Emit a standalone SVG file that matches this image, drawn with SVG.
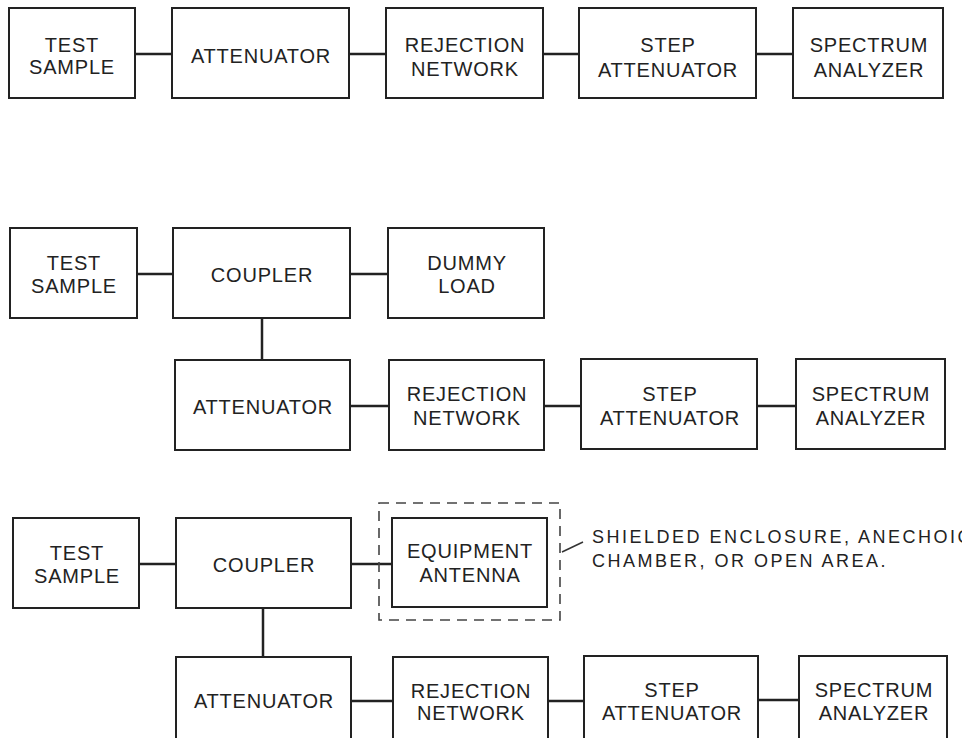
<svg xmlns="http://www.w3.org/2000/svg" width="962" height="738" viewBox="0 0 962 738">
<style>
.box{fill:#fff;stroke:#222;stroke-width:2}
.lbl{font-family:"Liberation Sans",Arial,sans-serif;font-size:20px;letter-spacing:0.8px;fill:#222;text-anchor:middle}
.conn line{stroke:#222;stroke-width:2.5}
.dash{fill:none;stroke:#444;stroke-width:1.6;stroke-dasharray:10 7}
.note{font-family:"Liberation Sans",Arial,sans-serif;font-size:18px;letter-spacing:2.5px;fill:#222}
</style>
<rect width="962" height="738" fill="#fff"/>
<g id="connectors" class="conn">
<line x1="135" y1="54" x2="172" y2="54"/>
<line x1="349" y1="54" x2="386" y2="54"/>
<line x1="543" y1="54" x2="579" y2="54"/>
<line x1="756" y1="54" x2="793" y2="54"/>
<line x1="137" y1="274" x2="173" y2="274"/>
<line x1="350" y1="274" x2="388" y2="274"/>
<line x1="262" y1="318" x2="262" y2="360"/>
<line x1="350" y1="406" x2="389" y2="406"/>
<line x1="544" y1="406" x2="581" y2="406"/>
<line x1="757" y1="406" x2="796" y2="406"/>
<line x1="139" y1="564" x2="176" y2="564"/>
<line x1="351" y1="564" x2="392" y2="564"/>
<line x1="263" y1="608" x2="263" y2="657"/>
<line x1="351" y1="701" x2="393" y2="701"/>
<line x1="548" y1="701" x2="584" y2="701"/>
<line x1="758" y1="700" x2="799" y2="700"/>
</g>
<g id="test1"><rect class="box" x="9" y="8" width="126" height="90"/><text class="lbl" x="72" y="52">TEST</text><text class="lbl" x="72" y="74">SAMPLE</text></g>
<g id="att1"><rect class="box" x="172" y="8" width="177" height="90"/><text class="lbl" x="261" y="63">ATTENUATOR</text></g>
<g id="rej1"><rect class="box" x="386" y="8" width="157" height="90"/><text class="lbl" x="465" y="52">REJECTION</text><text class="lbl" x="465" y="76">NETWORK</text></g>
<g id="step1"><rect class="box" x="579" y="8" width="177" height="90"/><text class="lbl" x="668" y="52">STEP</text><text class="lbl" x="668" y="77">ATTENUATOR</text></g>
<g id="spec1"><rect class="box" x="793" y="8" width="150" height="90"/><text class="lbl" x="869" y="52">SPECTRUM</text><text class="lbl" x="869" y="77">ANALYZER</text></g>

<g id="test2"><rect class="box" x="10" y="228" width="127" height="90"/><text class="lbl" x="74" y="270">TEST</text><text class="lbl" x="74" y="293">SAMPLE</text></g>
<g id="coup2"><rect class="box" x="173" y="228" width="177" height="90"/><text class="lbl" x="262" y="282">COUPLER</text></g>
<g id="dummy2"><rect class="box" x="388" y="228" width="156" height="90"/><text class="lbl" x="467" y="270">DUMMY</text><text class="lbl" x="467" y="293">LOAD</text></g>
<g id="att2"><rect class="box" x="175" y="360" width="175" height="90"/><text class="lbl" x="263" y="414">ATTENUATOR</text></g>
<g id="rej2"><rect class="box" x="389" y="360" width="155" height="90"/><text class="lbl" x="467" y="401">REJECTION</text><text class="lbl" x="467" y="425">NETWORK</text></g>
<g id="step2"><rect class="box" x="581" y="359" width="176" height="90"/><text class="lbl" x="670" y="401">STEP</text><text class="lbl" x="670" y="425">ATTENUATOR</text></g>
<g id="spec2"><rect class="box" x="796" y="359" width="149" height="90"/><text class="lbl" x="871" y="401">SPECTRUM</text><text class="lbl" x="871" y="425">ANALYZER</text></g>

<g id="test3"><rect class="box" x="13" y="518" width="126" height="90"/><text class="lbl" x="77" y="560">TEST</text><text class="lbl" x="77" y="583">SAMPLE</text></g>
<g id="coup3"><rect class="box" x="176" y="518" width="175" height="90"/><text class="lbl" x="264" y="572">COUPLER</text></g>
<g id="enclosure"><rect class="dash" x="379" y="503" width="181" height="117"/><line x1="562" y1="552" x2="583" y2="542" stroke="#333" stroke-width="1.5"/></g>
<g id="equip3"><rect class="box" x="392" y="518" width="155" height="89"/><text class="lbl" x="470" y="558">EQUIPMENT</text><text class="lbl" x="470" y="582">ANTENNA</text></g>
<g id="att3"><rect class="box" x="176" y="657" width="175" height="90"/><text class="lbl" x="264" y="708">ATTENUATOR</text></g>
<g id="rej3"><rect class="box" x="393" y="657" width="155" height="90"/><text class="lbl" x="471" y="698">REJECTION</text><text class="lbl" x="471" y="720">NETWORK</text></g>
<g id="step3"><rect class="box" x="584" y="656" width="174" height="90"/><text class="lbl" x="672" y="697">STEP</text><text class="lbl" x="672" y="720">ATTENUATOR</text></g>
<g id="spec3"><rect class="box" x="799" y="656" width="148" height="90"/><text class="lbl" x="874" y="697">SPECTRUM</text><text class="lbl" x="874" y="720">ANALYZER</text></g>
<g id="note"><text class="note" x="592" y="543">SHIELDED ENCLOSURE, ANECHOIC</text><text class="note" x="592" y="567">CHAMBER, OR OPEN AREA.</text></g>
</svg>
